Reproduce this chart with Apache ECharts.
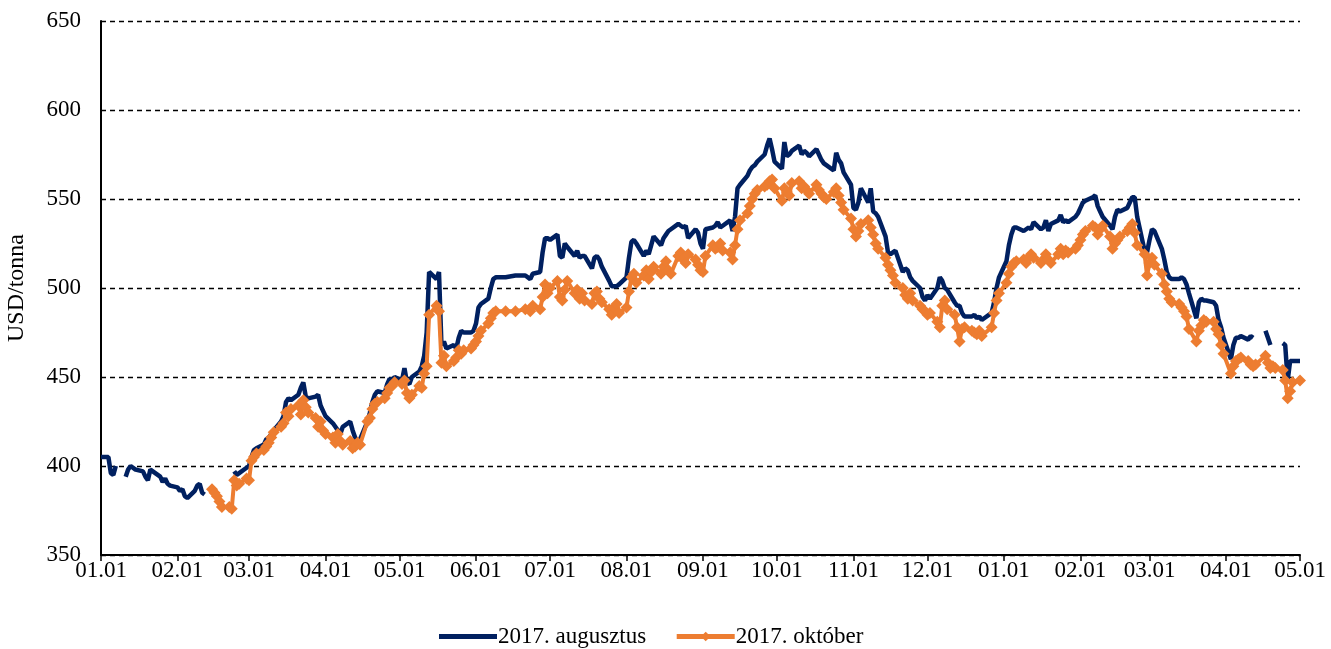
<!DOCTYPE html>
<html>
<head>
<meta charset="utf-8">
<script src="https://cdn.jsdelivr.net/npm/echarts@6/dist/echarts.min.js"></script>
<style>
  html, body { margin: 0; padding: 0; background: #fff; }
  #chart { width: 1331px; height: 649px; }
</style>
</head>
<body>
<div id="chart"></div>
<script>
// 2017. augusztus contract, USD/tonna (null = no quote)
const augDates = [
  '2016-01-01','2016-01-04','2016-01-05','2016-01-06','2016-01-07','2016-01-08','2016-01-11','2016-01-12','2016-01-13','2016-01-15',
  '2016-01-18','2016-01-19','2016-01-20','2016-01-21','2016-01-22','2016-01-25','2016-01-26','2016-01-27','2016-01-28','2016-01-29',
  '2016-02-01','2016-02-02','2016-02-03','2016-02-04','2016-02-05','2016-02-08','2016-02-09','2016-02-10','2016-02-11','2016-02-12',
  '2016-02-15','2016-02-24','2016-02-25','2016-02-26','2016-02-29','2016-03-01','2016-03-02','2016-03-03','2016-03-04','2016-03-07',
  '2016-03-08','2016-03-09','2016-03-10','2016-03-11','2016-03-14','2016-03-15','2016-03-16','2016-03-17','2016-03-18','2016-03-21',
  '2016-03-22','2016-03-23','2016-03-24','2016-03-25','2016-03-28','2016-03-29','2016-03-30','2016-03-31','2016-04-01','2016-04-04',
  '2016-04-05','2016-04-06','2016-04-07','2016-04-08','2016-04-11','2016-04-12','2016-04-13','2016-04-14','2016-04-15','2016-04-18',
  '2016-04-19','2016-04-20','2016-04-21','2016-04-22','2016-04-25','2016-04-26','2016-04-27','2016-04-28','2016-04-29','2016-05-02',
  '2016-05-03','2016-05-04','2016-05-05','2016-05-06','2016-05-09','2016-05-10','2016-05-11','2016-05-12','2016-05-13','2016-05-16',
  '2016-05-17','2016-05-18','2016-05-19','2016-05-20','2016-05-23','2016-05-24','2016-05-25','2016-05-26','2016-05-27','2016-05-30',
  '2016-05-31','2016-06-01','2016-06-02','2016-06-03','2016-06-06','2016-06-07','2016-06-08','2016-06-09','2016-06-13','2016-06-17',
  '2016-06-21','2016-06-23','2016-06-24','2016-06-27','2016-06-28','2016-06-29','2016-06-30','2016-07-01','2016-07-04','2016-07-05',
  '2016-07-06','2016-07-07','2016-07-08','2016-07-11','2016-07-12','2016-07-13','2016-07-14','2016-07-15','2016-07-18','2016-07-19',
  '2016-07-20','2016-07-21','2016-07-22','2016-07-25','2016-07-26','2016-07-27','2016-07-28','2016-07-29','2016-08-01','2016-08-02',
  '2016-08-03','2016-08-04','2016-08-05','2016-08-08','2016-08-09','2016-08-10','2016-08-11','2016-08-12','2016-08-15','2016-08-16',
  '2016-08-17','2016-08-18','2016-08-19','2016-08-22','2016-08-23','2016-08-24','2016-08-25','2016-08-26','2016-08-29','2016-08-30',
  '2016-08-31','2016-09-01','2016-09-02','2016-09-05','2016-09-06','2016-09-07','2016-09-08','2016-09-09','2016-09-12','2016-09-13',
  '2016-09-14','2016-09-15','2016-09-16','2016-09-19','2016-09-20','2016-09-21','2016-09-22','2016-09-23','2016-09-26','2016-09-27',
  '2016-09-28','2016-09-29','2016-09-30','2016-10-03','2016-10-04','2016-10-05','2016-10-06','2016-10-07','2016-10-10','2016-10-11',
  '2016-10-12','2016-10-13','2016-10-14','2016-10-17','2016-10-18','2016-10-19','2016-10-20','2016-10-21','2016-10-24','2016-10-25',
  '2016-10-26','2016-10-27','2016-10-28','2016-10-31','2016-11-01','2016-11-02','2016-11-03','2016-11-04','2016-11-07','2016-11-08',
  '2016-11-09','2016-11-10','2016-11-11','2016-11-14','2016-11-15','2016-11-16','2016-11-17','2016-11-18','2016-11-21','2016-11-22',
  '2016-11-23','2016-11-24','2016-11-25','2016-11-28','2016-11-29','2016-11-30','2016-12-01','2016-12-02','2016-12-05','2016-12-06',
  '2016-12-07','2016-12-08','2016-12-09','2016-12-12','2016-12-13','2016-12-14','2016-12-15','2016-12-16','2016-12-19','2016-12-20',
  '2016-12-21','2016-12-22','2016-12-23','2016-12-27','2016-12-28','2016-12-29','2016-12-30','2017-01-02','2017-01-03','2017-01-04',
  '2017-01-05','2017-01-06','2017-01-09','2017-01-10','2017-01-11','2017-01-12','2017-01-13','2017-01-16','2017-01-17','2017-01-18',
  '2017-01-19','2017-01-20','2017-01-23','2017-01-24','2017-01-25','2017-01-26','2017-01-27','2017-01-30','2017-01-31','2017-02-01',
  '2017-02-02','2017-02-03','2017-02-06','2017-02-07','2017-02-08','2017-02-09','2017-02-10','2017-02-13','2017-02-14','2017-02-15',
  '2017-02-16','2017-02-17','2017-02-20','2017-02-21','2017-02-22','2017-02-23','2017-02-24','2017-02-27','2017-02-28','2017-03-01',
  '2017-03-02','2017-03-03','2017-03-06','2017-03-07','2017-03-08','2017-03-09','2017-03-10','2017-03-13','2017-03-14','2017-03-15',
  '2017-03-16','2017-03-17','2017-03-20','2017-03-21','2017-03-22','2017-03-23','2017-03-24','2017-03-27','2017-03-28','2017-03-29',
  '2017-03-30','2017-03-31','2017-04-03','2017-04-04','2017-04-05','2017-04-06','2017-04-07','2017-04-10','2017-04-11','2017-04-12',
  '2017-04-13','2017-04-17','2017-04-18','2017-04-19','2017-04-20','2017-04-24','2017-04-25','2017-04-26','2017-04-27','2017-04-28',
  '2017-05-01'
];
const augPrices = [
  405,405,396,395,400,null,394,398,400,398,
  397,394,392,398,397,394,391,393,390,389,
  388,386,387,383,382,386,389,390,385,384,
  null,397,395,396,399,400,405,409,410,412,
  415,416,418,420,425,428,436,438,437,440,
  444,447,439,438,439,440,434,431,428,424,
  422,420,418,422,425,420,416,414,415,425,
  430,436,440,442,441,446,449,448,450,448,
  455,447,446,450,453,456,462,475,509,505,
  509,468,470,466,468,466,472,476,475,475,
  476,480,489,491,494,500,505,506,506,507,
  507,505,508,509,520,528,528,527,530,518,
  517,525,523,518,521,517,518,518,511,517,
  518,516,512,504,501,501,501,502,506,517,
  526,527,525,518,521,519,524,529,524,528,
  530,532,533,536,535,534,535,528,533,531,
  525,522,533,534,535,537,534,535,538,532,
  540,556,558,563,566,568,569,571,575,580,
  584,578,571,567,582,574,575,577,580,575,
  577,576,574,578,575,572,570,569,566,576,
  572,570,565,558,545,544,548,556,548,556,
  543,542,540,529,520,519,520,521,509,511,
  510,506,504,500,495,493,496,494,500,506,
  504,500,499,492,490,490,486,484,484,485,
  483,484,482,486,492,500,506,515,524,530,
  534,534,532,533,534,533,537,533,534,538,
  532,536,538,541,537,538,537,540,542,545,
  548,549,551,552,546,543,540,535,533,540,
  544,543,545,548,551,551,540,521,520,527,
  533,532,522,516,509,506,505,505,506,505,
  502,497,483,492,494,493,493,492,490,482,
  478,472,460,468,472,472,473,471,473,472,
  null,476,472,468,null,469,468,448,459,459,
  459
];

// 2017. október contract, USD/tonna
const octDates = [
  '2016-02-15','2016-02-16','2016-02-17','2016-02-18','2016-02-19','2016-02-22','2016-02-23','2016-02-24','2016-02-25','2016-02-26',
  '2016-02-29','2016-03-01','2016-03-02','2016-03-03','2016-03-04','2016-03-07','2016-03-08','2016-03-09','2016-03-10','2016-03-11',
  '2016-03-14','2016-03-15','2016-03-16','2016-03-17','2016-03-18','2016-03-21','2016-03-22','2016-03-23','2016-03-24','2016-03-25',
  '2016-03-28','2016-03-29','2016-03-30','2016-03-31','2016-04-01','2016-04-04','2016-04-05','2016-04-06','2016-04-07','2016-04-08',
  '2016-04-11','2016-04-12','2016-04-13','2016-04-14','2016-04-15','2016-04-18','2016-04-19','2016-04-20','2016-04-21','2016-04-22',
  '2016-04-25','2016-04-26','2016-04-27','2016-04-28','2016-04-29','2016-05-02','2016-05-03','2016-05-04','2016-05-05','2016-05-06',
  '2016-05-09','2016-05-10','2016-05-11','2016-05-12','2016-05-13','2016-05-16','2016-05-17','2016-05-18','2016-05-19','2016-05-20',
  '2016-05-23','2016-05-24','2016-05-25','2016-05-26','2016-05-27','2016-05-30','2016-05-31','2016-06-01','2016-06-02','2016-06-03',
  '2016-06-06','2016-06-07','2016-06-08','2016-06-09','2016-06-13','2016-06-17','2016-06-21','2016-06-23','2016-06-24','2016-06-27',
  '2016-06-28','2016-06-29','2016-06-30','2016-07-01','2016-07-04','2016-07-05','2016-07-06','2016-07-07','2016-07-08','2016-07-11',
  '2016-07-12','2016-07-13','2016-07-14','2016-07-15','2016-07-18','2016-07-19','2016-07-20','2016-07-21','2016-07-22','2016-07-25',
  '2016-07-26','2016-07-27','2016-07-28','2016-07-29','2016-08-01','2016-08-02','2016-08-03','2016-08-04','2016-08-05','2016-08-08',
  '2016-08-09','2016-08-10','2016-08-11','2016-08-12','2016-08-15','2016-08-16','2016-08-17','2016-08-18','2016-08-19','2016-08-22',
  '2016-08-23','2016-08-24','2016-08-25','2016-08-26','2016-08-29','2016-08-30','2016-08-31','2016-09-01','2016-09-02','2016-09-05',
  '2016-09-06','2016-09-07','2016-09-08','2016-09-09','2016-09-12','2016-09-13','2016-09-14','2016-09-15','2016-09-16','2016-09-19',
  '2016-09-20','2016-09-21','2016-09-22','2016-09-23','2016-09-26','2016-09-27','2016-09-28','2016-09-29','2016-09-30','2016-10-03',
  '2016-10-04','2016-10-05','2016-10-06','2016-10-07','2016-10-10','2016-10-11','2016-10-12','2016-10-13','2016-10-14','2016-10-17',
  '2016-10-18','2016-10-19','2016-10-20','2016-10-21','2016-10-24','2016-10-25','2016-10-26','2016-10-27','2016-10-28','2016-10-31',
  '2016-11-01','2016-11-02','2016-11-03','2016-11-04','2016-11-07','2016-11-08','2016-11-09','2016-11-10','2016-11-11','2016-11-14',
  '2016-11-15','2016-11-16','2016-11-17','2016-11-18','2016-11-21','2016-11-22','2016-11-23','2016-11-24','2016-11-25','2016-11-28',
  '2016-11-29','2016-11-30','2016-12-01','2016-12-02','2016-12-05','2016-12-06','2016-12-07','2016-12-08','2016-12-09','2016-12-12',
  '2016-12-13','2016-12-14','2016-12-15','2016-12-16','2016-12-19','2016-12-20','2016-12-21','2016-12-22','2016-12-23','2016-12-27',
  '2016-12-28','2016-12-29','2016-12-30','2017-01-02','2017-01-03','2017-01-04','2017-01-05','2017-01-06','2017-01-09','2017-01-10',
  '2017-01-11','2017-01-12','2017-01-13','2017-01-16','2017-01-17','2017-01-18','2017-01-19','2017-01-20','2017-01-23','2017-01-24',
  '2017-01-25','2017-01-26','2017-01-27','2017-01-30','2017-01-31','2017-02-01','2017-02-02','2017-02-03','2017-02-06','2017-02-07',
  '2017-02-08','2017-02-09','2017-02-10','2017-02-13','2017-02-14','2017-02-15','2017-02-16','2017-02-17','2017-02-20','2017-02-21',
  '2017-02-22','2017-02-23','2017-02-24','2017-02-27','2017-02-28','2017-03-01','2017-03-02','2017-03-03','2017-03-06','2017-03-07',
  '2017-03-08','2017-03-09','2017-03-10','2017-03-13','2017-03-14','2017-03-15','2017-03-16','2017-03-17','2017-03-20','2017-03-21',
  '2017-03-22','2017-03-23','2017-03-24','2017-03-27','2017-03-28','2017-03-29','2017-03-30','2017-03-31','2017-04-03','2017-04-04',
  '2017-04-05','2017-04-06','2017-04-07','2017-04-10','2017-04-11','2017-04-12','2017-04-13','2017-04-17','2017-04-18','2017-04-19',
  '2017-04-20','2017-04-21','2017-04-24','2017-04-25','2017-04-26','2017-04-27','2017-04-28','2017-05-01'
];
const octPrices = [
  387,385,383,380,377,377,376,392,389,390,
  393,392,403,405,407,409,411,413,416,419,
  422,424,430,428,432,434,429,437,433,430,
  427,422,425,420,418,416,413,418,414,412,
  414,410,411,413,412,425,427,432,435,436,
  438,441,444,445,447,446,448,441,438,440,
  445,444,452,456,485,490,487,458,462,456,
  459,461,465,463,465,466,468,470,473,476,
  480,483,486,487,487,487,488,487,490,488,
  495,502,497,500,504,495,493,499,504,497,
  499,494,497,493,491,497,498,494,492,488,
  485,489,491,486,489,498,506,508,503,507,
  510,505,509,512,508,512,515,510,508,518,
  520,516,514,519,516,513,510,509,518,524,
  522,523,525,521,520,516,524,533,538,542,
  546,550,553,555,557,558,560,561,556,549,
  556,554,552,559,560,556,557,555,553,558,
  555,553,551,550,554,556,552,548,544,539,
  533,529,532,536,538,534,530,525,522,517,
  513,510,507,503,500,496,494,497,493,490,
  488,487,485,486,481,478,490,493,488,485,
  478,470,477,478,476,475,474,476,473,478,
  486,493,497,503,508,512,514,515,516,514,
  517,519,517,514,516,519,516,514,519,522,
  519,521,520,522,524,527,530,532,535,534,
  530,533,535,529,522,525,527,529,532,534,
  536,531,524,519,507,514,517,513,508,502,
  498,494,492,491,489,487,484,477,470,476,
  479,482,481,481,477,474,468,463,452,456,
  459,460,461,459,457,456,457,462,458,455,
  456,455,454,448,438,442,447,448
];

const seriesNames = ['2017. augusztus', '2017. október'];
const yTicks = { min: 350, max: 650, step: 50 };

const NAVY = '#002060';
const ORANGE = '#ED7D31';
const FONT = '"Liberation Serif", "Times New Roman", serif';

const pair = (dates, vals) => dates.map((d, i) => [d, vals[i] == null ? '-' : vals[i]]);

const chart = echarts.init(document.getElementById('chart'), null, { renderer: 'canvas' });

chart.setOption({
  animation: false,
  backgroundColor: '#fff',
  grid: { left: 101, right: 31, top: 21, bottom: 94, containLabel: false, outerBoundsMode: 'none' },
  legend: {
    top: 620,
    left: 434,
    itemWidth: 58,
    itemHeight: 12,
    itemGap: 28,
    lineStyle: { width: 5 },
    textStyle: { fontFamily: FONT, fontSize: 23, color: '#000', padding: [0, 0, 0, -4] },
    data: [
      { name: seriesNames[0], icon: 'path://M0,0 H120 V10 H0 Z' },
      { name: seriesNames[1] }
    ]
  },
  xAxis: {
    type: 'time',
    min: '2016-01-01',
    max: '2017-05-01',
    minInterval: 28 * 86400000,
    maxInterval: 31 * 86400000,
    splitLine: { show: false },
    axisLine: { lineStyle: { color: '#000', width: 2 } },
    axisTick: { show: true, length: 6, lineStyle: { color: '#000', width: 1.5 } },
    axisLabel: {
      color: '#000',
      fontFamily: FONT,
      fontSize: 23,
      margin: 4,
      hideOverlap: false,
      formatter: v => echarts.time.format(v, '{MM}.{dd}', false)
    }
  },
  yAxis: {
    type: 'value',
    min: yTicks.min,
    max: yTicks.max,
    interval: yTicks.step,
    name: 'USD/tonna',
    nameLocation: 'middle',
    nameGap: 72,
    nameRotate: 90,
    nameTextStyle: { fontFamily: FONT, fontSize: 24, color: '#000' },
    axisLine: { show: true, lineStyle: { color: '#000', width: 2 } },
    axisTick: { show: false },
    axisLabel: { color: '#000', fontFamily: FONT, fontSize: 23, margin: 20 },
    splitLine: { show: true, lineStyle: { color: '#000', type: [5, 4], width: 1.3 } }
  },
  series: [
    {
      name: seriesNames[0],
      type: 'line',
      data: pair(augDates, augPrices),
      symbol: 'none',
      connectNulls: false,
      lineStyle: { color: NAVY, width: 4.5 },
      itemStyle: { color: NAVY },
      z: 2
    },
    {
      name: seriesNames[1],
      type: 'line',
      data: pair(octDates, octPrices),
      symbol: 'diamond',
      symbolSize: 12,
      showAllSymbol: true,
      lineStyle: { color: ORANGE, width: 4 },
      itemStyle: { color: ORANGE },
      z: 3
    }
  ]
});
</script>
</body>
</html>
